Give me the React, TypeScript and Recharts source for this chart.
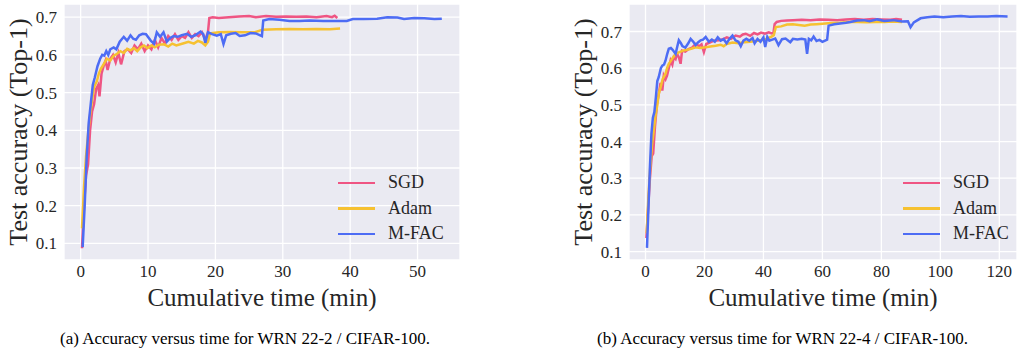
import { LineChart, Line, XAxis, YAxis, CartesianGrid, Legend } from 'recharts'

// ---- (a) WRN 22-2 / CIFAR-100 ----
const sgdTimeA = [0.2, 0.5, 0.8, 1.1, 1.4, 1.7, 2.0, 2.3, 2.6, 2.8, 3.1, 3.4, 3.7, 4.0, 4.4, 4.8, 5.2, 5.6, 6.0, 6.5, 7.0, 7.5, 8.0, 8.5, 9.0, 9.5, 10.0, 10.5, 11.0, 11.5, 12.0, 12.5, 13.0, 13.5, 14.0, 14.5, 15.0, 15.5, 16.0, 16.5, 17.0, 17.5, 18.0, 18.5, 18.9, 19.1, 19.6, 20.5, 22, 23.5, 25, 26, 27.5, 29, 30.5, 32, 33.5, 35, 36.5, 37.3, 37.7, 38.1]
const sgdAccA = [0.087, 0.2, 0.28, 0.31, 0.4, 0.45, 0.47, 0.51, 0.52, 0.49, 0.55, 0.57, 0.585, 0.56, 0.59, 0.6, 0.58, 0.605, 0.575, 0.61, 0.615, 0.605, 0.625, 0.615, 0.63, 0.61, 0.625, 0.615, 0.64, 0.62, 0.645, 0.63, 0.65, 0.64, 0.655, 0.64, 0.65, 0.645, 0.66, 0.645, 0.655, 0.65, 0.66, 0.64, 0.661, 0.698, 0.7, 0.698, 0.7, 0.702, 0.703, 0.7, 0.703, 0.701, 0.702, 0.701, 0.702, 0.7, 0.703, 0.7, 0.704, 0.698]

const adamTimeA = [0.2, 0.5, 0.8, 1.1, 1.4, 1.7, 2.0, 2.4, 2.7, 3.0, 3.4, 3.9, 4.4, 4.9, 5.4, 5.9, 6.4, 6.9, 7.4, 7.9, 8.4, 8.9, 9.4, 9.9, 10.5, 11.0, 11.6, 12.4, 13.0, 13.6, 14.2, 15.3, 16.0, 16.8, 17.4, 18.0, 18.5, 18.9, 19.2, 20.5, 22, 24, 26, 27, 29, 31, 33, 35, 37, 38.5]
const adamAccA = [0.14, 0.25, 0.33, 0.39, 0.44, 0.48, 0.515, 0.53, 0.55, 0.563, 0.575, 0.59, 0.585, 0.598, 0.603, 0.61, 0.605, 0.616, 0.612, 0.618, 0.61, 0.62, 0.625, 0.618, 0.625, 0.62, 0.627, 0.628, 0.622, 0.63, 0.625, 0.631, 0.635, 0.63, 0.637, 0.633, 0.625, 0.635, 0.657, 0.66, 0.661, 0.66, 0.661, 0.667, 0.668, 0.669, 0.668, 0.669, 0.668, 0.67]

const mfacTimeA = [0.3, 0.6, 0.9, 1.2, 1.5, 1.8, 2.1, 2.5, 2.9, 3.2, 3.5, 3.8, 4.1, 4.4, 4.9, 5.3, 5.8, 6.4, 6.9, 7.4, 7.8, 8.2, 8.7, 9.2, 9.7, 10.4, 10.9, 11.3, 11.8, 12.3, 12.8, 13.3, 13.8, 14.4, 15.0, 15.8, 16.4, 17.0, 17.8, 18.2, 18.5, 18.9, 19.5, 20.2, 20.8, 21.2, 21.6, 22.3, 23.0, 23.6, 24.4, 25.2, 26.0, 26.9, 27.1, 28, 29.5, 31, 32.5, 34, 36, 38, 39.5, 40.4, 42, 44, 45.5, 47, 48, 49.5, 51, 52.5, 53.6]
const mfacAccA = [0.09, 0.2, 0.33, 0.42, 0.47, 0.52, 0.54, 0.57, 0.59, 0.6, 0.598, 0.61, 0.6, 0.615, 0.62, 0.615, 0.635, 0.648, 0.638, 0.652, 0.643, 0.64, 0.652, 0.656, 0.655, 0.638, 0.63, 0.66, 0.648, 0.66, 0.635, 0.645, 0.65, 0.648, 0.652, 0.656, 0.648, 0.652, 0.662, 0.655, 0.632, 0.66, 0.655, 0.651, 0.655, 0.629, 0.652, 0.656, 0.658, 0.65, 0.652, 0.658, 0.657, 0.65, 0.691, 0.695, 0.693, 0.69, 0.69, 0.691, 0.69, 0.69, 0.69, 0.695, 0.695, 0.696, 0.7, 0.699, 0.695, 0.698, 0.697, 0.695, 0.696]

// ---- (b) WRN 22-4 / CIFAR-100 ----
const sgdTimeB = [0.3, 0.9, 1.5, 2.1, 2.6, 3.2, 3.9, 4.5, 5.1, 5.7, 6.2, 6.8, 7.3, 7.9, 8.5, 9.1, 9.6, 10.2, 10.7, 11.3, 11.9, 12.4, 13.5, 14.6, 15.8, 17.0, 18.2, 19.0, 19.8, 20.6, 21.8, 23.2, 24.9, 26.3, 27.6, 29.0, 30.6, 32.0, 33.0, 34.0, 35.5, 36.8, 38.0, 39.2, 40.5, 41.8, 42.8, 43.4, 43.8, 44.5, 46, 48, 50, 53, 56, 59, 62, 65, 68, 71, 74, 77, 80, 83, 85, 87]
const sgdAccB = [0.137, 0.22, 0.3, 0.36, 0.367, 0.44, 0.503, 0.53, 0.56, 0.539, 0.58, 0.57, 0.58, 0.6, 0.621, 0.61, 0.63, 0.625, 0.639, 0.63, 0.612, 0.648, 0.645, 0.652, 0.656, 0.666, 0.66, 0.665, 0.644, 0.666, 0.67, 0.675, 0.676, 0.679, 0.684, 0.68, 0.689, 0.686, 0.692, 0.694, 0.688, 0.696, 0.692, 0.697, 0.694, 0.698, 0.695, 0.697, 0.72, 0.726, 0.729, 0.73, 0.731, 0.732, 0.731, 0.733, 0.732, 0.731, 0.733, 0.734, 0.732, 0.734, 0.733, 0.732, 0.734, 0.732]

const adamTimeB = [0.4, 1.0, 1.6, 2.2, 2.8, 3.4, 4.0, 4.5, 5.2, 5.8, 6.8, 7.3, 7.9, 8.6, 9.4, 10.2, 11.5, 12.8, 14.0, 15.5, 17.0, 18.5, 20.4, 22.0, 23.8, 25.5, 26.5, 27.5, 29.5, 31.5, 33.5, 35.5, 37.4, 39.0, 40.5, 41.5, 42.5, 43.5, 44.2, 46, 48, 50, 52, 54, 56, 58, 60, 63, 66, 69, 72, 75, 78, 81, 84, 87]
const adamAccB = [0.15, 0.25, 0.33, 0.39, 0.43, 0.47, 0.5, 0.53, 0.55, 0.57, 0.585, 0.6, 0.612, 0.62, 0.63, 0.639, 0.644, 0.648, 0.65, 0.653, 0.657, 0.655, 0.657, 0.659, 0.661, 0.664, 0.66, 0.666, 0.67, 0.668, 0.671, 0.672, 0.674, 0.676, 0.678, 0.682, 0.685, 0.69, 0.712, 0.714, 0.719, 0.72, 0.718, 0.716, 0.719, 0.72, 0.721, 0.723, 0.724, 0.726, 0.726, 0.725, 0.726, 0.726, 0.727, 0.726]

const mfacTimeB = [0.5, 1.0, 1.5, 2.0, 2.5, 3.0, 3.5, 4.0, 4.5, 5.2, 5.7, 6.3, 6.8, 7.4, 7.9, 8.6, 9.2, 10.2, 10.8, 11.3, 12.0, 12.5, 13.5, 14.5, 15.3, 16.2, 17.0, 17.8, 18.7, 19.5, 20.4, 21.5, 22.5, 23.5, 24.5, 25.5, 26.5, 27.5, 28.5, 29.5, 30.5, 31.5, 32.3, 33.2, 34.2, 35.2, 36.3, 37.0, 38.0, 39.0, 40.0, 40.6, 41.3, 42.0, 43.0, 44.0, 45.1, 46.3, 47.5, 49.1, 50.0, 51.5, 53.0, 54.2, 54.8, 55.4, 56.2, 57.0, 58.0, 59.0, 60.0, 61.6, 62.1, 64, 66, 68, 69.5, 71.8, 74, 76, 78.6, 81, 84, 87, 89, 89.9, 91, 93.3, 95.6, 98, 101, 104, 107, 110, 113, 116, 119, 122.8]
const mfacAccB = [0.11, 0.22, 0.33, 0.42, 0.465, 0.48, 0.52, 0.565, 0.576, 0.6, 0.607, 0.61, 0.621, 0.64, 0.653, 0.655, 0.65, 0.639, 0.66, 0.676, 0.668, 0.66, 0.656, 0.668, 0.68, 0.672, 0.663, 0.67, 0.676, 0.678, 0.685, 0.672, 0.678, 0.672, 0.684, 0.675, 0.679, 0.668, 0.68, 0.689, 0.676, 0.672, 0.66, 0.675, 0.68, 0.675, 0.682, 0.668, 0.68, 0.672, 0.684, 0.658, 0.685, 0.675, 0.678, 0.681, 0.663, 0.679, 0.681, 0.671, 0.68, 0.678, 0.68, 0.678, 0.639, 0.68, 0.676, 0.686, 0.674, 0.677, 0.672, 0.678, 0.716, 0.72, 0.722, 0.724, 0.726, 0.73, 0.731, 0.728, 0.733, 0.729, 0.731, 0.727, 0.728, 0.712, 0.725, 0.736, 0.739, 0.741, 0.739, 0.741, 0.742, 0.74, 0.741, 0.741, 0.742, 0.741]

const seriesNames = ['SGD', 'Adam', 'M-FAC']
const seriesColors = ['#EF5583', '#F6C131', '#4D6CF4']
const yTicks = [0.1, 0.2, 0.3, 0.4, 0.5, 0.6, 0.7]
const xTicksA = [0, 10, 20, 30, 40, 50]
const xTicksB = [0, 20, 40, 60, 80, 100, 120]

const serif = '"Liberation Serif", "Times New Roman", serif'
const ink = '#262626'

const zip = (t: number[], a: number[]) => t.map((x, i) => ({ t: x, acc: a[i] }))

const LegendBox = () => (
  <div style={{ fontFamily: serif, fontSize: 18, color: ink }}>
    {seriesNames.map((n, i) => (
      <div key={n} style={{ display: 'flex', alignItems: 'center', height: 25.5 }}>
        <div style={{ width: 37, height: 2.5, background: seriesColors[i], marginRight: 13 }} />
        <span>{n}</span>
      </div>
    ))}
  </div>
)

interface PanelProps {
  series: { t: number; acc: number }[][]
  xDomain: [number, number]
  xTicks: number[]
  yDomain: [number, number]
  width: number
  yAxisWidth: number
  marginRight: number
  yLabelOffset: number
  legendLeft: number
}

function Panel(p: PanelProps) {
  return (
    <LineChart
      width={p.width}
      height={320}
      margin={{ top: 4, right: p.marginRight, bottom: 0, left: 0 }}
    >
      <CartesianGrid fill="#EAEAF2" stroke="#FFFFFF" strokeWidth={1.3} />
      <XAxis
        type="number"
        dataKey="t"
        domain={p.xDomain}
        ticks={p.xTicks}
        allowDataOverflow
        height={60}
        tickLine={false}
        axisLine={false}
        tickSize={0}
        tickMargin={5}
        tick={{ fill: ink, fontSize: 17, fontFamily: serif }}
        label={{ value: 'Cumulative time (min)', position: 'insideBottom', offset: 14, fill: ink, fontSize: 25, fontFamily: serif }}
      />
      <YAxis
        type="number"
        domain={p.yDomain}
        ticks={yTicks}
        allowDataOverflow
        width={p.yAxisWidth}
        tickLine={false}
        axisLine={false}
        tickSize={0}
        tickMargin={7}
        tickFormatter={(v: number) => v.toFixed(1)}
        tick={{ fill: ink, fontSize: 17, fontFamily: serif }}
        label={{ value: 'Test accuracy (Top-1)', angle: -90, position: 'insideLeft', offset: p.yLabelOffset, fill: ink, fontSize: 26, fontFamily: serif, style: { textAnchor: 'middle' } }}
      />
      <Legend
        layout="vertical"
        align="center"
        verticalAlign="middle"
        content={<LegendBox />}
        wrapperStyle={{ left: p.legendLeft, top: 170, width: 130 }}
      />
      {p.series.map((d, i) => (
        <Line
          key={seriesNames[i]}
          data={d}
          dataKey="acc"
          name={seriesNames[i]}
          type="linear"
          stroke={seriesColors[i]}
          strokeWidth={2.5}
          dot={false}
          isAnimationActive={false}
        />
      ))}
    </LineChart>
  )
}

export default function App() {
  const seriesA = [zip(sgdTimeA, sgdAccA), zip(adamTimeA, adamAccA), zip(mfacTimeA, mfacAccA)]
  const seriesB = [zip(sgdTimeB, sgdAccB), zip(adamTimeB, adamAccB), zip(mfacTimeB, mfacAccB)]
  const caption = { position: 'absolute' as const, top: 329, fontFamily: serif, fontSize: 17, color: '#000', whiteSpace: 'nowrap' as const }

  return (
    <div style={{ position: 'absolute', left: 0, top: 0, width: 1017, height: 351, background: '#fff', overflow: 'hidden' }}>
      <div style={{ position: 'absolute', left: 0, top: 0 }}>
        <Panel
          series={seriesA}
          xDomain={[-2.47, 56.3]}
          xTicks={xTicksA}
          yDomain={[0.056, 0.735]}
          width={500}
          yAxisWidth={64}
          marginRight={40}
          yLabelOffset={18}
          legendLeft={338}
        />
      </div>
      <div style={{ position: 'absolute', left: 520, top: 0 }}>
        <Panel
          series={seriesB}
          xDomain={[-5.6, 126]}
          xTicks={xTicksB}
          yDomain={[0.077, 0.775]}
          width={497}
          yAxisWidth={109}
          marginRight={0}
          yLabelOffset={63}
          legendLeft={383}
        />
      </div>
      <div style={{ ...caption, left: 60 }}>(a) Accuracy versus time for WRN 22-2 / CIFAR-100.</div>
      <div style={{ ...caption, left: 597 }}>(b) Accuracy versus time for WRN 22-4 / CIFAR-100.</div>
    </div>
  )
}
